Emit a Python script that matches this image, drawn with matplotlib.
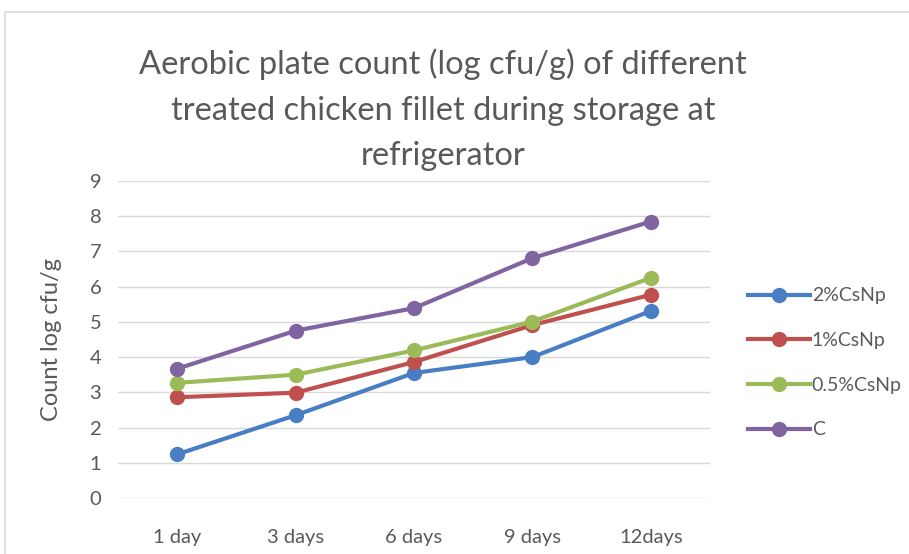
import matplotlib
matplotlib.use('Agg')
import matplotlib.pyplot as plt
from matplotlib.patches import Rectangle

plt.rcParams['font.family'] = ['Lato', 'DejaVu Sans']

days = ['1 day', '3 days', '6 days', '9 days', '12days']
cs2 = [1.24, 2.35, 3.55, 4.0, 5.31]
cs1 = [2.86, 2.99, 3.86, 4.91, 5.77]
cs05 = [3.27, 3.50, 4.19, 5.01, 6.25]
control = [3.67, 4.75, 5.39, 6.81, 7.85]

series = [
    ('2%CsNp', cs2, '#4A7EC4'),
    ('1%CsNp', cs1, '#C0504D'),
    ('0.5%CsNp', cs05, '#9BBB59'),
    ('C', control, '#8064A2'),
]

text_col = '#595959'
W, H = 909, 554
fig = plt.figure(figsize=(W / 100, H / 100), dpi=100)
ax = fig.add_axes([118 / W, 1 - 498 / H, (710 - 118) / W, (498 - 181) / H])

# chart border
fig.patches.append(Rectangle((5 / W, -0.05), 1.1, 0.05 + 1 - 12 / H,
                             transform=fig.transFigure, fill=False,
                             edgecolor='#D9D9D9', linewidth=1.2))

x = [i + 0.5 for i in range(len(days))]
for name, vals, col in series:
    ax.plot(x, vals, '-o', color=col, linewidth=3, markersize=10, label=name)

ax.set_xlim(0, len(days))
ax.set_ylim(0, 9)
ax.set_yticks(range(10))
ax.set_xticks(x)
ax.set_xticklabels(days)
ax.grid(axis='y', color='#D9D9D9', linewidth=1)
ax.set_axisbelow(True)
for s in ax.spines.values():
    s.set_visible(False)
ax.tick_params(length=0, labelsize=14.5, colors=text_col, pad=12)
ax.tick_params(axis='x', pad=22)
ax.set_ylabel('Count log cfu/g', fontsize=17, color=text_col, labelpad=20)

fig.text(443 / W, 1 - 110 / H,
         'Aerobic plate count (log cfu/g) of different\n'
         'treated chicken fillet during storage at\nrefrigerator',
         ha='center', va='center', fontsize=23.5, color=text_col,
         linespacing=1.65)

fig.legend(loc='upper left', bbox_to_anchor=(730 / W, 1 - 270 / H),
           frameon=False, fontsize=14, labelcolor=text_col,
           handlelength=3.2, handletextpad=0.1, labelspacing=1.42)

fig.savefig('out.png', dpi=100)
